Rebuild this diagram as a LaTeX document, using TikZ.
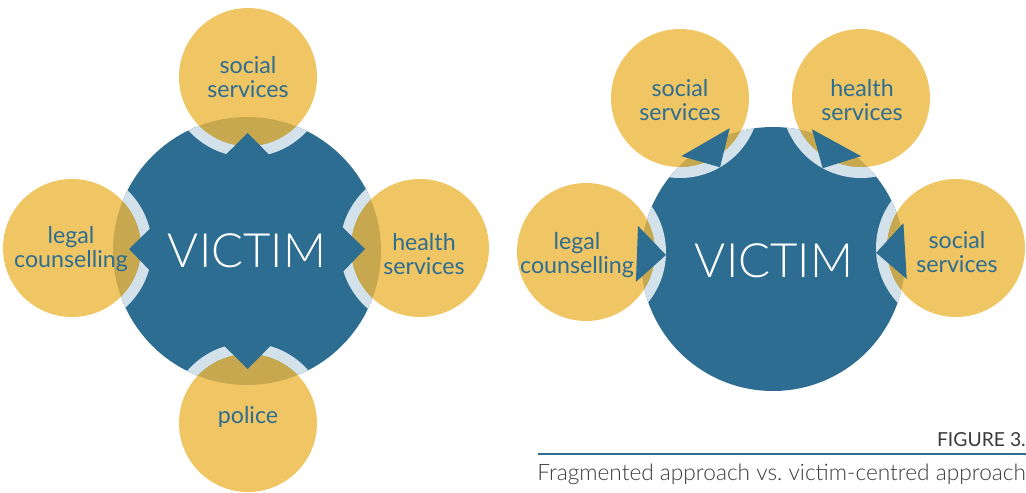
\documentclass[tikz,border=0pt]{standalone}
\usepackage{fontspec}
\setmainfont{Lato}
\newfontfamily\thinfont{Lato Light}
\usetikzlibrary{calc}
\definecolor{victim-blue}{HTML}{2D6D92}
\definecolor{service-yellow}{HTML}{F0C664}
\definecolor{overlap-olive}{HTML}{C8A84E}
\definecolor{ring-pale}{HTML}{D3E2EA}
\definecolor{caption-grey}{HTML}{3A3A3A}

\tikzset{
  victim/.style={circle, fill=victim-blue, inner sep=0pt},
  victimtext/.style={text=white, inner sep=0pt,
    font=\thinfont\fontsize{35.5}{40}\selectfont},
  service/.style={circle, fill=service-yellow, inner sep=0pt, minimum size=103.5pt},
  svctext/.style={align=center, text=victim-blue, inner sep=0pt,
    font=\fontsize{17.4}{18}\selectfont},
  ring/.style={draw=ring-pale, line width=8.25pt},
  captext/.style={anchor=base east, inner sep=0pt, text=caption-grey},
}

\begin{document}
\begin{tikzpicture}[x=0.75pt, y=-0.75pt]
\useasboundingbox (0,0) rectangle (1026,493);

% fragmented approach: arrows point out of the victim
\node[victim, minimum size=201pt] (vicL) at (247,251) {};
\node[service] (fs) at (248,77) {};
\node[service] (fl) at (72,248) {};
\node[service] (fh) at (420,248) {};
\node[service] (fp) at (248,423) {};
\begin{scope}
  \clip (vicL.center) circle[radius=100.5pt];
  \foreach \c in {fs,fl,fh,fp} {
    \draw[ring] (\c.center) circle[radius=55.875pt];
    \fill[overlap-olive] (\c.center) circle[radius=51.75pt];
  }
\end{scope}
\foreach \c in {fs,fl,fh,fp}
  \fill[victim-blue] ($(vicL.center)!88.5pt!(\c.center)$)
    -- ($(vicL.center)!66pt!(\c.center)!22.5pt!90:(\c.center)$)
    -- ($(vicL.center)!43.5pt!(\c.center)$)
    -- ($(vicL.center)!66pt!(\c.center)!22.5pt!-90:(\c.center)$) -- cycle;
\node[victimtext] (vicLT) at (247,251) {VICTIM};
\node[svctext] (fsT) at (248,77) {social\\services};
\node[svctext] (flT) at (71,249) {legal\\counselling};
\node[svctext] (fhT) at (424,254) {health\\services};
\node[svctext] (fpT) at (248,417) {police};

% victim-centred approach: arrows point into the victim
\node[victim, minimum size=198pt] (vicR) at (773,259) {};
\node[service] (cs) at (680,98) {};
\node[service] (ch) at (861,98) {};
\node[service] (cl) at (586,252) {};
\node[service] (cr) at (956,248) {};
\begin{scope}
  \clip (vicR.center) circle[radius=99pt];
  \foreach \c in {cs,ch,cl,cr} {
    \draw[ring] (\c.center) circle[radius=55.875pt];
    \fill[overlap-olive] (\c.center) circle[radius=51.75pt];
  }
\end{scope}
\foreach \c in {cs,ch,cl,cr}
  \fill[victim-blue] ($(\c.center)!60pt!(vicR.center)$)
    -- ($(\c.center)!38.25pt!(vicR.center)!21pt!90:(vicR.center)$)
    -- ($(\c.center)!38.25pt!(vicR.center)!21pt!-90:(vicR.center)$) -- cycle;
\node[victimtext] (vicRT) at (774,261) {VICTIM};
\node[svctext] (csT) at (680,100) {social\\services};
\node[svctext] (chT) at (862,100) {health\\services};
\node[svctext] (clT) at (577,255) {legal\\counselling};
\node[svctext] (crT) at (957,252) {social\\services};

% caption
\coordinate (capA) at (538,454);
\coordinate (capB) at (1026,454);
\draw[victim-blue, line width=1.5pt] (capA) -- (capB);
\node[captext, font=\fontsize{14.5}{16}\selectfont] (figno) at (1026,446) {FIGURE 3.};
\node[captext, font=\thinfont\fontsize{17}{18}\selectfont] (figcap) at (1026,480)
  {Fragmented approach vs.\ victim-centred approach};
\end{tikzpicture}
\end{document}
